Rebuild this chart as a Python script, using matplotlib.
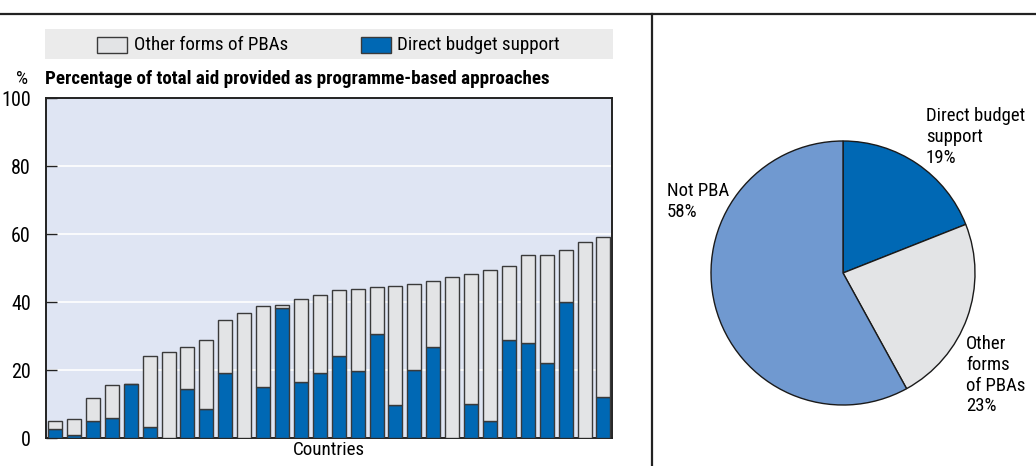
import matplotlib
matplotlib.use("Agg")
import matplotlib.pyplot as plt
from matplotlib import font_manager
from matplotlib.patches import Rectangle
from matplotlib.lines import Line2D
import numpy as np

# pick a narrow sans face if the system has one
fonts = font_manager.fontManager.ttflist
narrow = None
for want in ["Liberation Sans Narrow", "Roboto Condensed", "Open Sans Condensed"]:
    if any(f.name == want for f in fonts):
        narrow = (want, "normal")
        break
if narrow is None:
    for f in fonts:
        if f.name == "DejaVu Sans" and str(f.stretch) in ("condensed", "semi-condensed"):
            narrow = ("DejaVu Sans", "condensed")
            break
if narrow is None:
    narrow = ("Liberation Sans", "normal")
plt.rcParams["font.family"] = [narrow[0], "DejaVu Sans"]
plt.rcParams["font.stretch"] = narrow[1]

# share of total aid delivered as programme-based approaches, by country (%)
total_pba = [5.1, 5.5, 11.9, 15.6, 16.0, 24.2, 25.2, 26.7, 28.7, 34.7,
             36.9, 38.9, 39.1, 40.8, 42.0, 43.4, 43.8, 44.4, 44.6, 45.3,
             46.3, 47.3, 48.3, 49.5, 50.5, 53.7, 53.9, 55.4, 57.7, 59.0]
direct_budget = [2.6, 0.9, 5.1, 5.9, 16.0, 3.2, 0.0, 14.3, 8.6, 19.0,
                 0.0, 15.0, 38.3, 16.6, 19.0, 24.0, 19.7, 30.7, 9.7, 20.1,
                 26.7, 0.0, 10.1, 4.9, 28.9, 28.0, 22.2, 40.1, 0.0, 12.0]
yticks = [0, 20, 40, 60, 80, 100]

pie_labels = ["Direct budget\nsupport\n19%", "Other\nforms\nof PBAs\n23%", "Not PBA\n58%"]
pie_values = [19, 23, 58]

BLUE = "#0068b4"
LIGHT = "#e3e4e6"
PALE = "#7099d0"
EDGE = "#3a3a3a"
BG = "#dfe5f3"
FS = 13.7

W, H = 1036, 466
fig = plt.figure(figsize=(W / 100, H / 100), dpi=100)


def box(x0, y0, x1, y1):
    # pixel box (top-left origin) -> figure fraction
    return [x0 / W, 1 - y1 / H, (x1 - x0) / W, (y1 - y0) / H]


# frame lines
fig.add_artist(Line2D([0, 1], [1 - 14 / H] * 2, color="#222222", lw=1.6))
fig.add_artist(Line2D([652 / W] * 2, [0, 1 - 14 / H], color="#222222", lw=1.6))

# legend strip
fig.add_artist(Rectangle((45 / W, 1 - 59 / H), (613 - 45) / W, 30 / H,
                         facecolor="#ebebeb", edgecolor="none"))
fig.add_artist(Rectangle((97 / W, 1 - 53 / H), 30 / W, 16 / H,
                         facecolor=LIGHT, edgecolor=EDGE, lw=1))
fig.text(134 / W, 1 - 45 / H, "Other forms of PBAs", fontsize=FS, va="center")
fig.add_artist(Rectangle((361 / W, 1 - 53 / H), 30 / W, 16 / H,
                         facecolor=BLUE, edgecolor=EDGE, lw=1))
fig.text(397 / W, 1 - 45 / H, "Direct budget support", fontsize=FS, va="center")

fig.text(16 / W, 1 - 79 / H, "%", fontsize=FS, va="center")
fig.text(45 / W, 1 - 79 / H, "Percentage of total aid provided as programme-based approaches",
         fontsize=FS, fontweight="bold", va="center")

# stacked bars
ax = fig.add_axes(box(46, 98, 612, 438))
ax.set_facecolor(BG)
x = np.arange(len(total_pba))
other = np.array(total_pba) - np.array(direct_budget)
ax.bar(x, direct_budget, width=0.74, color=BLUE, edgecolor=EDGE, lw=1, zorder=3)
ax.bar(x, other, bottom=direct_budget, width=0.74, color=LIGHT, edgecolor=EDGE, lw=1, zorder=3)
ax.set_xlim(-0.48, len(x) - 0.55)
ax.set_ylim(0, 100)
ax.set_yticks(yticks)
ax.yaxis.grid(True, color="white", lw=1.2, zorder=0)
ax.set_xticks([])
ax.tick_params(axis="y", direction="in", length=8, width=1, labelsize=14.5, pad=11, color="#222222")
for s in ax.spines.values():
    s.set_color("#222222")
    s.set_linewidth(1.4)
ax.set_xlabel("Countries", fontsize=FS, labelpad=2)

# pie of aid modalities
pax = fig.add_axes(box(843 - 132, 273 - 132, 843 + 132, 273 + 132))
pax.pie(pie_values, colors=[BLUE, LIGHT, PALE], startangle=90, counterclock=False,
        wedgeprops=dict(edgecolor="#1a1a1a", linewidth=1))
pax.set_xlim(-1, 1)
pax.set_ylim(-1, 1)
pax.set_aspect("equal")
pax.axis("off")

fig.text(926 / W, 1 - 107 / H, pie_labels[0], fontsize=13.5, va="top", linespacing=1.2)
fig.text(966 / W, 1 - 335 / H, pie_labels[1], fontsize=13.5, va="top", linespacing=1.2)
fig.text(667 / W, 1 - 182 / H, pie_labels[2], fontsize=13.5, va="top", linespacing=1.2)

fig.savefig("out.png", dpi=100)
